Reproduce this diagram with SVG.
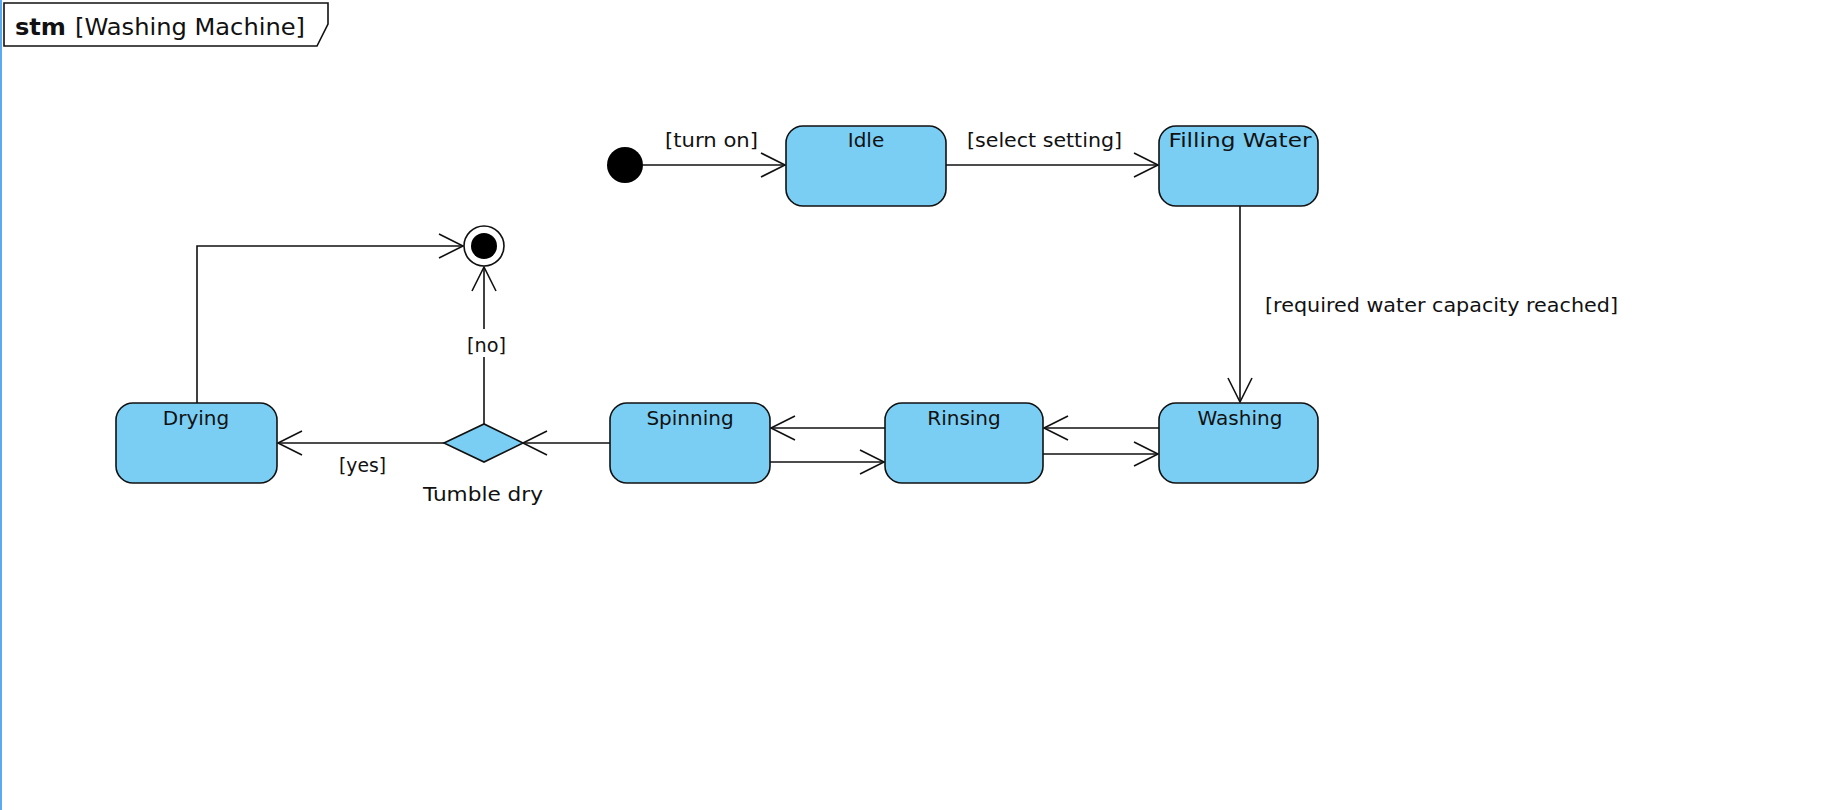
<svg xmlns="http://www.w3.org/2000/svg" width="1826" height="810" viewBox="0 0 1826 810">
<style>
.st{fill:#7ACEF4;stroke:#111;stroke-width:1.6}
.t{font-family:"DejaVu Sans","Liberation Sans",sans-serif;font-size:20px;fill:#111}
.c{text-anchor:middle}
.e{fill:none;stroke:#111;stroke-width:1.6}
</style>
<defs>
<marker id="ah" viewBox="-27 -14 30 28" markerWidth="30" markerHeight="28" refX="0" refY="0" orient="auto" markerUnits="userSpaceOnUse">
<path d="M-24,-12 L0,0 L-24,12" fill="none" stroke="#111" stroke-width="1.6"/>
</marker>
</defs>
<rect x="0" y="0" width="1826" height="810" fill="#fff"/>
<rect x="0" y="0" width="2" height="810" fill="#5AAAF0"/>
<g id="frame">
<path d="M4,3 H328 V24 L317,46 H4 Z" fill="#fff" stroke="#111" stroke-width="1.6"/>
<text x="15" y="35" class="t" style="font-size:23px;font-weight:bold" textLength="51" lengthAdjust="spacingAndGlyphs">stm</text>
<text x="75" y="35" class="t" style="font-size:23px" textLength="230" lengthAdjust="spacingAndGlyphs">[Washing Machine]</text>
</g>
<g id="connectors">
<line class="e" x1="643" y1="165" x2="785" y2="165" marker-end="url(#ah)"/>
<line class="e" x1="946" y1="165" x2="1158" y2="165" marker-end="url(#ah)"/>
<line class="e" x1="1240" y1="206" x2="1240" y2="402" marker-end="url(#ah)"/>
<line class="e" x1="1159" y1="428" x2="1044" y2="428" marker-end="url(#ah)"/>
<line class="e" x1="1043" y1="454" x2="1158" y2="454" marker-end="url(#ah)"/>
<line class="e" x1="885" y1="428" x2="771" y2="428" marker-end="url(#ah)"/>
<line class="e" x1="770" y1="462" x2="884" y2="462" marker-end="url(#ah)"/>
<line class="e" x1="610" y1="443" x2="523" y2="443" marker-end="url(#ah)"/>
<line class="e" x1="444" y1="443" x2="278" y2="443" marker-end="url(#ah)"/>
<line class="e" x1="484" y1="424" x2="484" y2="267" marker-end="url(#ah)"/>
<polyline class="e" points="197,403 197,246 463,246" marker-end="url(#ah)"/>
<text x="665" y="147" class="t" textLength="93" lengthAdjust="spacingAndGlyphs">[turn on]</text>
<text x="967" y="147" class="t" textLength="155" lengthAdjust="spacingAndGlyphs">[select setting]</text>
<text x="1265" y="312" class="t" textLength="353" lengthAdjust="spacingAndGlyphs">[required water capacity reached]</text>
<rect x="464" y="329" width="42" height="28" fill="#fff"/>
<text x="467" y="352" class="t" textLength="39" lengthAdjust="spacingAndGlyphs">[no]</text>
<text x="339" y="472" class="t" textLength="47" lengthAdjust="spacingAndGlyphs">[yes]</text>
</g>
<g id="initial">
<circle cx="625" cy="165" r="18" fill="#000"/>
</g>
<g id="final">
<circle cx="484" cy="246" r="20" fill="#fff" stroke="#111" stroke-width="1.6"/>
<circle cx="484" cy="246" r="13" fill="#000"/>
</g>
<g id="idle">
<rect class="st" x="786" y="126" width="160" height="80" rx="17"/>
<text x="866" y="147" class="t c">Idle</text>
</g>
<g id="filling-water">
<rect class="st" x="1159" y="126" width="159" height="80" rx="17"/>
<text x="1240" y="147" class="t c" textLength="143" lengthAdjust="spacingAndGlyphs">Filling Water</text>
</g>
<g id="washing">
<rect class="st" x="1159" y="403" width="159" height="80" rx="17"/>
<text x="1240" y="425" class="t c">Washing</text>
</g>
<g id="rinsing">
<rect class="st" x="885" y="403" width="158" height="80" rx="17"/>
<text x="964" y="425" class="t c">Rinsing</text>
</g>
<g id="spinning">
<rect class="st" x="610" y="403" width="160" height="80" rx="17"/>
<text x="690" y="425" class="t c">Spinning</text>
</g>
<g id="drying">
<rect class="st" x="116" y="403" width="161" height="80" rx="17"/>
<text x="196" y="425" class="t c">Drying</text>
</g>
<g id="tumble-dry">
<polygon points="444,443 484,424 523,443 484,462" fill="#7ACEF4" stroke="#111" stroke-width="1.6"/>
<text x="423" y="501" class="t" textLength="120" lengthAdjust="spacingAndGlyphs">Tumble dry</text>
</g>
</svg>
